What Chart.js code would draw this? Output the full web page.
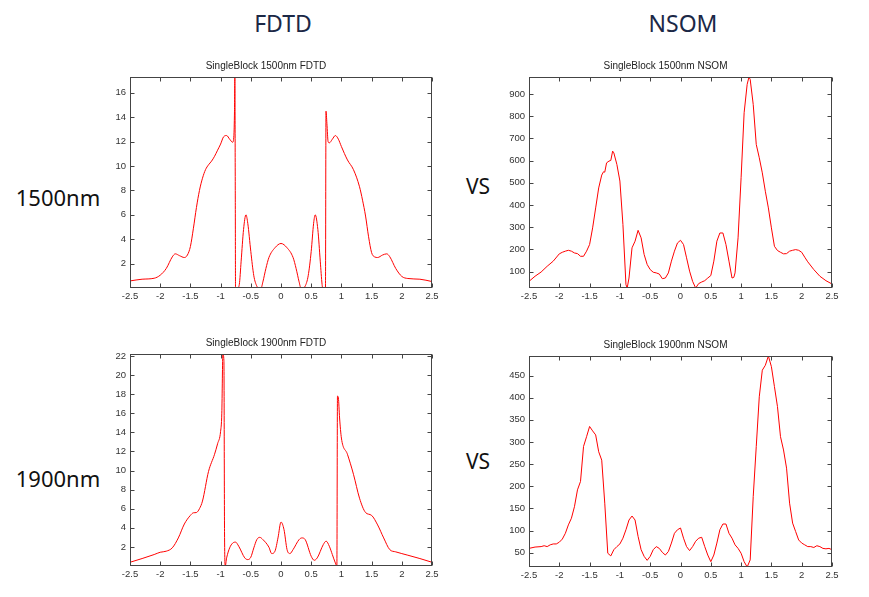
<!DOCTYPE html>
<html>
<head>
<meta charset="utf-8">
<script src="https://cdn.jsdelivr.net/npm/chart.js@4.4.0/dist/chart.umd.min.js"></script>
<style>
  body { margin: 0; width: 869px; height: 597px; background: #fff; position: relative; overflow: hidden; font-family: 'Noto Sans', sans-serif; }
  .lbl { position: absolute; transform: translate(-50%, -50%); line-height: 1; white-space: nowrap; }
  canvas { position: absolute; }
</style>
</head>
<body>
<div class="lbl" style="left:283px; top:23px; font-size:23px; color:#1b2846;">FDTD</div>
<div class="lbl" style="left:683px; top:23px; font-size:23px; color:#1b2846;">NSOM</div>
<div class="lbl" style="left:58px; top:197px; font-size:22px; color:#111;">1500nm</div>
<div class="lbl" style="left:478px; top:186px; font-size:21px; color:#111;">VS</div>
<div class="lbl" style="left:58px; top:478px; font-size:22px; color:#111;">1900nm</div>
<div class="lbl" style="left:478px; top:461px; font-size:21px; color:#111;">VS</div>

<canvas id="c1" width="362" height="249" style="left:100px; top:57px;"></canvas>
<canvas id="c2" width="363" height="249" style="left:499px; top:57px;"></canvas>
<canvas id="c3" width="362" height="250" style="left:100px; top:334px;"></canvas>
<canvas id="c4" width="363" height="249" style="left:499px; top:336px;"></canvas>

<script>
// x positions (um) shared tick labels
const xTicks = [-2.5, -2, -1.5, -1, -0.5, 0, 0.5, 1, 1.5, 2, 2.5];

// 1500nm FDTD
const fdtd1500X = [-2.5,-2.3,-2.1,-2.0,-1.9,-1.8,-1.75,-1.68,-1.6,-1.55,-1.5,-1.45,-1.4,-1.35,-1.3,-1.25,-1.2,-1.15,-1.1,-1.05,-1.0,-0.95,-0.9,-0.85,-0.8,-0.78,-0.77,-0.764,-0.757,-0.753,-0.72,-0.69,-0.66,-0.62,-0.58,-0.55,-0.5,-0.45,-0.4,-0.37,-0.33,-0.3,-0.25,-0.2,-0.1,0,0.1,0.2,0.25,0.3,0.33,0.36,0.4,0.45,0.5,0.54,0.566,0.61,0.65,0.68,0.69,0.736,0.745,0.76,0.78,0.8,0.85,0.9,0.95,1.0,1.1,1.2,1.3,1.35,1.4,1.45,1.5,1.55,1.6,1.68,1.75,1.8,1.9,2.0,2.1,2.3,2.5];
const fdtd1500Y = [0.58,0.72,0.8,1.05,1.6,2.55,2.8,2.65,2.5,2.7,3.4,4.9,6.6,8.0,9.0,9.7,10.1,10.4,10.8,11.3,11.8,12.4,12.5,12.2,11.95,12.5,14.5,17.3,8,0,0,0.3,2.2,4.8,6.0,5.3,3.0,1.0,0.15,0,0,0.5,1.6,2.5,3.3,3.65,3.3,2.5,1.6,0.5,0,0,0.15,1.0,3.0,5.3,6.0,4.8,2.2,0.3,0,0,14.5,13.5,12.0,11.9,12.2,12.5,12.2,11.6,10.5,9.7,8.3,7.2,5.9,4.2,2.9,2.55,2.5,2.7,2.8,2.57,1.6,0.95,0.78,0.72,0.53];
const fdtd1500Ticks = [2, 4, 6, 8, 10, 12, 14, 16];

// 1500nm NSOM
const nsom1500X = [-2.5,-2.4,-2.3,-2.2,-2.1,-2.0,-1.95,-1.9,-1.85,-1.8,-1.75,-1.7,-1.65,-1.6,-1.55,-1.5,-1.45,-1.4,-1.35,-1.3,-1.27,-1.25,-1.22,-1.18,-1.15,-1.12,-1.1,-1.05,-1.0,-0.95,-0.9,-0.88,-0.85,-0.8,-0.75,-0.7,-0.65,-0.6,-0.55,-0.5,-0.45,-0.4,-0.35,-0.3,-0.25,-0.2,-0.15,-0.1,-0.05,0,0.05,0.1,0.15,0.2,0.25,0.3,0.35,0.4,0.45,0.5,0.55,0.6,0.65,0.7,0.75,0.8,0.85,0.88,0.9,0.95,1.0,1.05,1.1,1.13,1.15,1.2,1.25,1.3,1.35,1.4,1.45,1.5,1.55,1.6,1.65,1.7,1.75,1.8,1.85,1.9,1.95,2.0,2.05,2.1,2.2,2.3,2.4,2.5];
const nsom1500Y = [56,79,98,124,147,180,187,192,196,192,184,181,169,169,192,222,297,387,477,535,550,548,590,598,601,643,635,583,508,312,41,26,71,207,237,286,252,177,132,109,97,94,89,68,71,94,147,192,229,241,222,162,102,56,26,46,53,59,71,82,147,237,274,274,222,147,71,74,94,252,523,816,944,977,966,853,673,613,545,462,387,297,214,195,187,180,181,192,196,199,196,187,165,144,109,79,59,44];
const nsom1500Ticks = [100, 200, 300, 400, 500, 600, 700, 800, 900];

// 1900nm FDTD
const fdtd1900X = [-2.5,-2.3,-2.1,-2.0,-1.9,-1.8,-1.7,-1.6,-1.5,-1.45,-1.4,-1.35,-1.3,-1.2,-1.1,-1.05,-1.0,-0.98,-0.962,-0.945,-0.935,-0.923,-0.9,-0.85,-0.8,-0.753,-0.7,-0.6,-0.55,-0.5,-0.45,-0.4,-0.352,-0.3,-0.2,-0.154,-0.1,-0.05,0,0.05,0.1,0.148,0.2,0.3,0.346,0.4,0.5,0.55,0.6,0.7,0.747,0.8,0.85,0.9,0.925,0.935,0.95,0.97,1.0,1.1,1.2,1.3,1.4,1.5,1.6,1.7,1.8,1.9,2.0,2.1,2.3,2.5];
const fdtd1900Y = [0.39,0.78,1.2,1.44,1.55,1.9,2.94,4.4,5.3,5.57,5.6,6.0,6.8,9.9,11.7,12.8,14.1,16.0,22.2,21.5,3.6,0,0.85,1.9,2.4,2.5,2.07,0.85,0.67,0.92,1.9,2.77,3.0,2.77,1.97,1.3,1.55,2.94,4.6,3.8,1.72,1.3,1.72,2.77,2.94,2.77,1.02,0.6,0.85,2.24,2.6,2.07,1.2,0.32,0,17.8,17.6,15.5,13.4,11.7,9.6,7.1,5.6,5.3,4.3,2.94,1.72,1.48,1.3,1.13,0.78,0.39];
const fdtd1900Ticks = [2, 4, 6, 8, 10, 12, 14, 16, 18, 20, 22];

// 1900nm NSOM
const nsom1900X = [-2.5,-2.4,-2.3,-2.25,-2.2,-2.15,-2.1,-2.05,-2.0,-1.95,-1.9,-1.85,-1.8,-1.75,-1.7,-1.65,-1.6,-1.55,-1.5,-1.45,-1.4,-1.35,-1.3,-1.25,-1.2,-1.15,-1.1,-1.05,-1.0,-0.95,-0.9,-0.85,-0.8,-0.75,-0.7,-0.65,-0.6,-0.55,-0.5,-0.45,-0.4,-0.35,-0.3,-0.25,-0.2,-0.15,-0.1,-0.05,0,0.05,0.1,0.15,0.2,0.25,0.3,0.35,0.4,0.45,0.5,0.55,0.6,0.65,0.7,0.75,0.8,0.85,0.9,0.95,1.0,1.05,1.1,1.15,1.2,1.25,1.3,1.35,1.4,1.45,1.5,1.55,1.6,1.65,1.7,1.75,1.8,1.85,1.9,1.95,2.0,2.05,2.1,2.15,2.2,2.25,2.3,2.35,2.4,2.45,2.5];
const nsom1900Y = [60,63,64,66,64,68,70,70,74,81,94,113,128,154,192,211,290,312,335,325,316,278,259,162,49,43,57,64,70,83,102,124,133,124,87,57,42,33,42,57,64,60,51,45,53,72,94,102,106,83,64,55,64,76,83,85,64,45,30,45,72,102,115,115,94,83,68,60,49,30,18,34,177,290,402,462,473,494,470,425,380,312,282,241,162,117,98,79,72,68,64,64,62,66,64,60,59,60,57];
const nsom1900Ticks = [50, 100, 150, 200, 250, 300, 350, 400, 450];

// MATLAB style box with inward ticks on all four sides
const boxPlugin = {
  id: 'matlabBox',
  afterDraw(chart) {
    const { ctx, chartArea: a, scales } = chart;
    const l = Math.round(a.left) + 0.5, r = Math.round(a.right) - 0.5;
    const t = Math.round(a.top) + 0.5, b = Math.round(a.bottom) - 0.5;
    ctx.save();
    ctx.strokeStyle = '#444';
    ctx.lineWidth = 1;
    ctx.strokeRect(l, t, r - l, b - t);
    ctx.beginPath();
    scales.x.ticks.forEach(tk => {
      const px = Math.round(scales.x.getPixelForValue(tk.value)) + 0.5;
      ctx.moveTo(px, b); ctx.lineTo(px, b - 4);
      ctx.moveTo(px, t); ctx.lineTo(px, t + 4);
    });
    scales.y.ticks.forEach(tk => {
      const py = Math.round(scales.y.getPixelForValue(tk.value)) + 0.5;
      ctx.moveTo(l, py); ctx.lineTo(l + 4, py);
      ctx.moveTo(r, py); ctx.lineTo(r - 4, py);
    });
    ctx.stroke();
    ctx.restore();
  }
};

function makeChart(id, title, xs, ys, yTicks, yMin, yMax, smooth) {
  const pts = xs.map((x, i) => ({ x: x, y: ys[i] }));
  const tickFont = { family: 'Liberation Sans', size: 9.5 };
  return new Chart(document.getElementById(id), {
    type: 'line',
    data: {
      datasets: [{
        data: pts,
        borderColor: '#ff0000',
        borderWidth: 1,
        pointRadius: 0,
        fill: false,
        cubicInterpolationMode: smooth ? 'monotone' : 'default',
        tension: 0
      }]
    },
    options: {
      responsive: false,
      animation: false,
      layout: { padding: { left: 0, right: 30, top: 0, bottom: 0 } },
      plugins: {
        legend: { display: false },
        tooltip: { enabled: false },
        title: {
          display: true,
          text: title,
          color: '#222',
          font: { family: 'Liberation Sans', size: 10, weight: 'normal' },
          padding: { top: 3, bottom: 5 }
        }
      },
      scales: {
        x: {
          type: 'linear',
          min: -2.5,
          max: 2.5,
          grid: { display: false, drawTicks: false },
          border: { display: false },
          ticks: { color: '#333', font: tickFont, padding: 3, autoSkip: false, maxRotation: 0, callback: v => String(v) },
          afterBuildTicks: s => { s.ticks = xTicks.map(v => ({ value: v })); },
          afterFit: s => { s.height = 18; }
        },
        y: {
          type: 'linear',
          min: yMin,
          max: yMax,
          grid: { display: false, drawTicks: false },
          border: { display: false },
          ticks: { color: '#333', font: tickFont, padding: 4, autoSkip: false, callback: v => String(v) },
          afterBuildTicks: s => { s.ticks = yTicks.map(v => ({ value: v })); },
          afterFit: s => { s.width = 30; }
        }
      }
    },
    plugins: [boxPlugin]
  });
}

makeChart('c1', 'SingleBlock 1500nm FDTD', fdtd1500X, fdtd1500Y, fdtd1500Ticks, 0, 17.3, true);
makeChart('c2', 'SingleBlock 1500nm NSOM', nsom1500X, nsom1500Y, nsom1500Ticks, 26, 977, false);
makeChart('c3', 'SingleBlock 1900nm FDTD', fdtd1900X, fdtd1900Y, fdtd1900Ticks, 0, 22.2, true);
makeChart('c4', 'SingleBlock 1900nm NSOM', nsom1900X, nsom1900Y, nsom1900Ticks, 18, 494, false);
</script>
</body>
</html>
